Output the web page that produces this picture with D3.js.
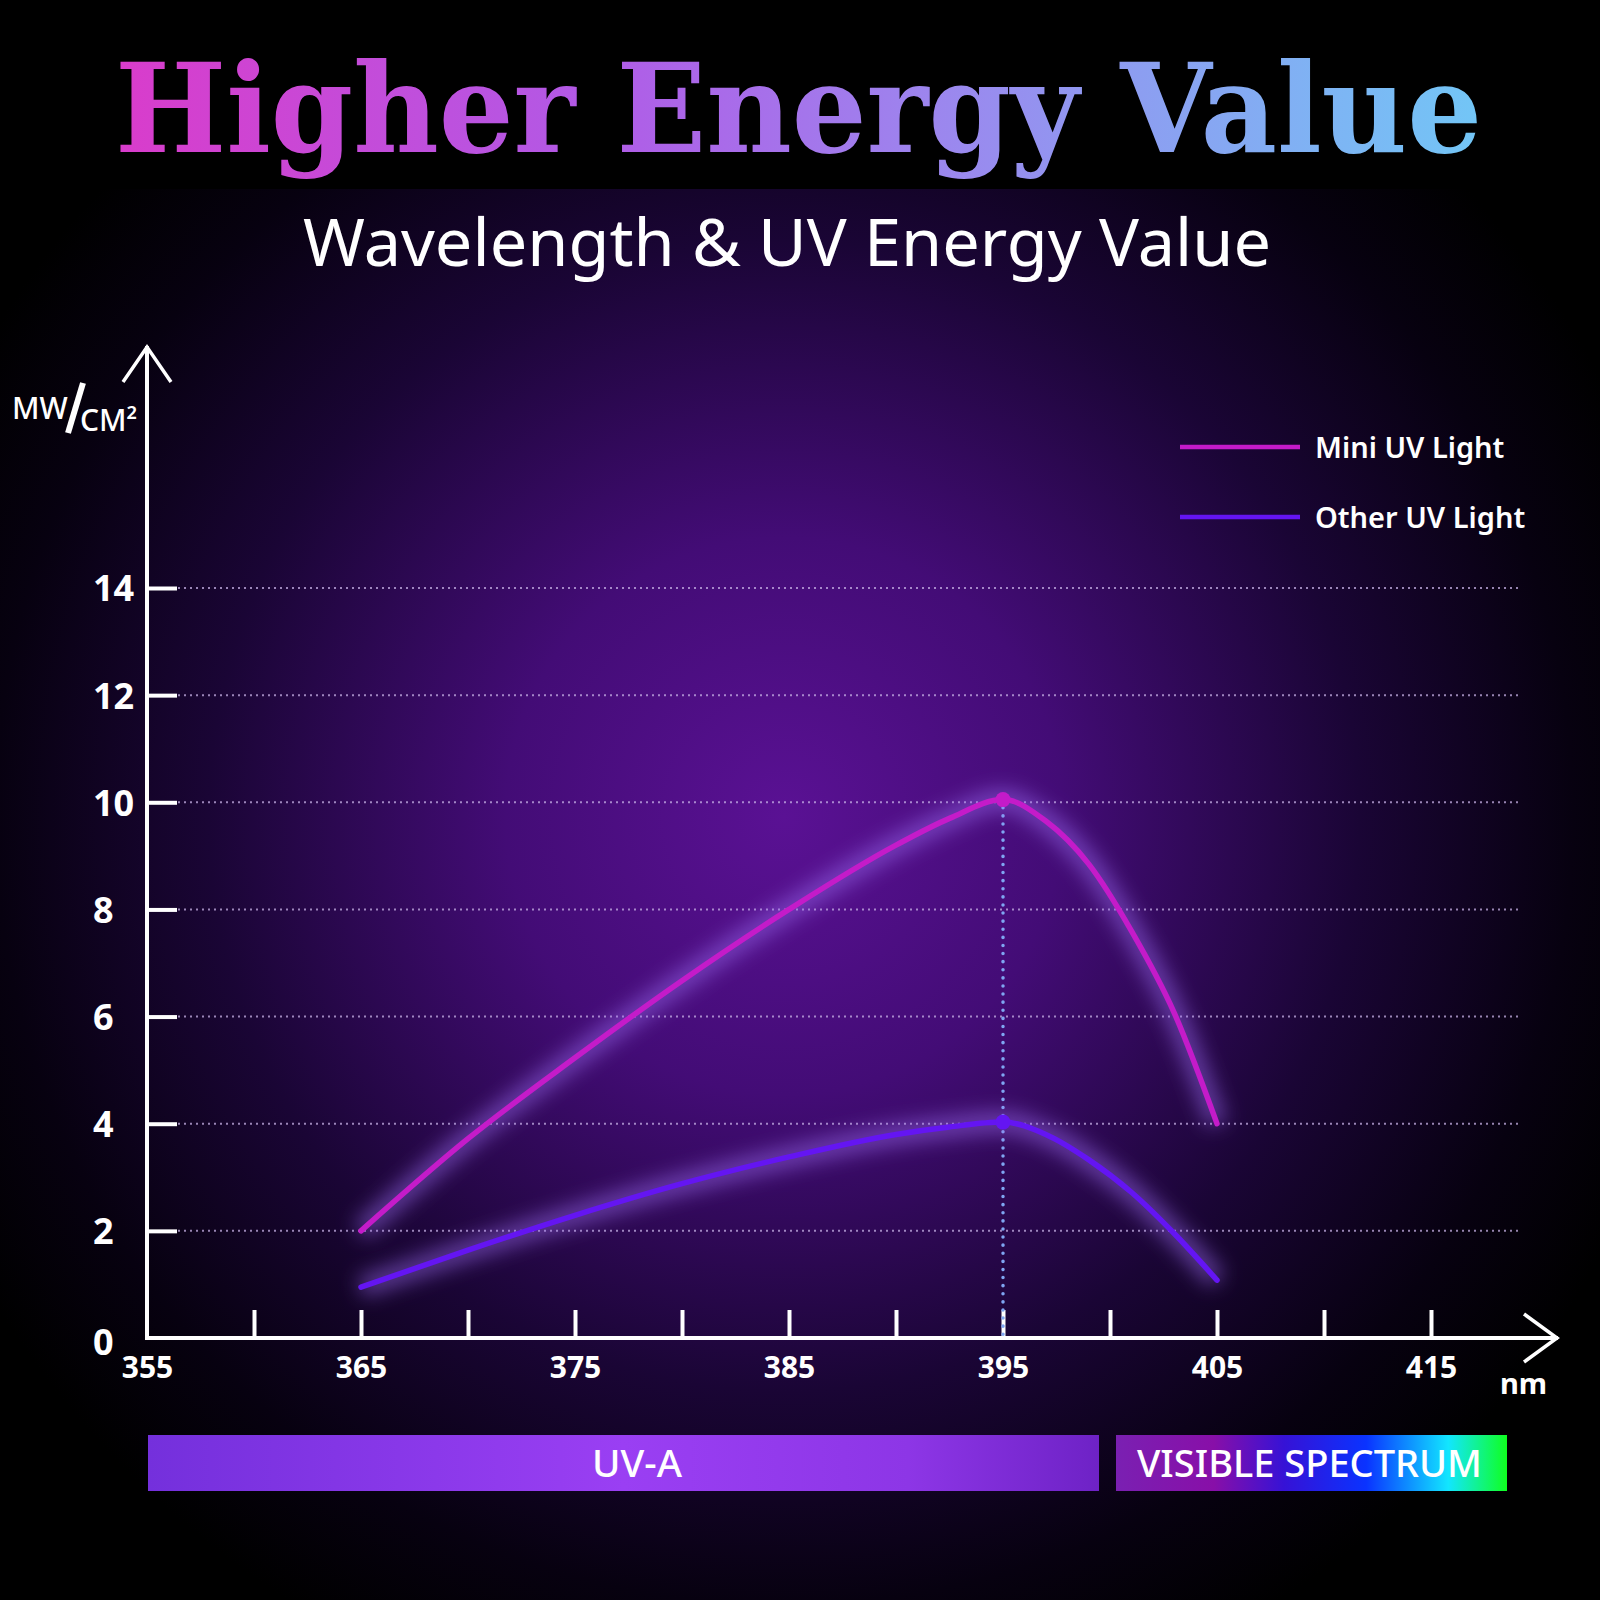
<!DOCTYPE html>
<html>
<head>
<meta charset="utf-8" />
<title>Wavelength & UV Energy Value</title>
<script src="https://cdn.jsdelivr.net/npm/d3@7"></script>
<style>
html, body {
	margin: 0;
	padding: 0;
	background: #000;
}
svg { display: block; }
text { font-family: "Noto Sans", "Open Sans", sans-serif; fill: #fff; }
</style>
</head>
<body>
<div id="chart"></div>
<script>

// values (nm -> mW/cm2)
var wavelengths = [365, 370, 375, 380, 385, 390, 392.5, 395, 397, 399, 401, 403, 405];
var miniUV  = [2.0, 3.72, 5.23, 6.67, 8.0, 9.2, 9.7, 10.05, 9.65, 8.85, 7.6, 6.07, 4.0];
var otherUV = [0.95, 1.64, 2.29, 2.88, 3.38, 3.8, 3.94, 4.03, 3.8, 3.33, 2.72, 1.95, 1.08];

var peakNm = 395;
var yTicks = [0, 2, 4, 6, 8, 10, 12, 14];
var xTicks = [355, 360, 365, 370, 375, 380, 385, 390, 395, 400, 405, 410, 415];
var seriesNames = ["Mini UV Light", "Other UV Light"];
var seriesColors = ["#c41bc9", "#6415f2"];
var bands = ["UV-A", "VISIBLE SPECTRUM"];

var W = 1600, H = 1600;

var svg = d3.select("#chart").append("svg")
	.attr("width", W)
	.attr("height", H);

var defs = svg.append("defs");

// background glow
var bg = defs.append("radialGradient").attr("id", "bg")
	.attr("cx", "49%").attr("cy", "51%").attr("r", "58%");
[["0", "#5a1194"], ["0.3", "#430c76"], ["0.62", "#1a0535"], ["0.85", "#070110"], ["1", "#000"]]
	.forEach(function (s) { bg.append("stop").attr("offset", s[0]).attr("stop-color", s[1]); });

var titleGrad = defs.append("linearGradient").attr("id", "titleGrad")
	.attr("gradientUnits", "userSpaceOnUse")
	.attr("x1", 115).attr("x2", 1482).attr("y1", 0).attr("y2", 0);
[["0", "#d93ccb"], ["0.35", "#b15ae6"], ["0.6", "#9c86ee"], ["1", "#72c6f6"]]
	.forEach(function (s) { titleGrad.append("stop").attr("offset", s[0]).attr("stop-color", s[1]); });

var uvaGrad = defs.append("linearGradient").attr("id", "uvaGrad");
[["0", "#7430dc"], ["0.5", "#9a3ff3"], ["0.8", "#8d36e6"], ["1", "#6e22c6"]]
	.forEach(function (s) { uvaGrad.append("stop").attr("offset", s[0]).attr("stop-color", s[1]); });

var visGrad = defs.append("linearGradient").attr("id", "visGrad");
[["0", "#7a20b2"], ["0.25", "#880fa8"], ["0.43", "#3612d6"], ["0.64", "#0a33ff"], ["0.85", "#12e6ff"], ["1", "#10ff20"]]
	.forEach(function (s) { visGrad.append("stop").attr("offset", s[0]).attr("stop-color", s[1]); });

var blur = defs.append("filter").attr("id", "blur")
	.attr("x", "-30%").attr("y", "-30%").attr("width", "160%").attr("height", "160%");
blur.append("feGaussianBlur").attr("stdDeviation", 10);

svg.append("rect").attr("width", W).attr("height", H).attr("fill", "url(#bg)");
svg.append("rect").attr("width", W).attr("height", 189).attr("fill", "#000");

// titles
svg.append("text")
	.attr("x", 115).attr("y", 152)
	.attr("textLength", 1367).attr("lengthAdjust", "spacingAndGlyphs")
	.style("font-family", "'DejaVu Serif', serif")
	.style("font-weight", "bold")
	.style("font-size", "124px")
	.style("fill", "url(#titleGrad)")
	.text("Higher Energy Value");

svg.append("text")
	.attr("x", 303).attr("y", 266)
	.attr("textLength", 968).attr("lengthAdjust", "spacingAndGlyphs")
	.style("font-size", "66px")
	.text("Wavelength & UV Energy Value");

// scales
var x = d3.scaleLinear().domain([355, 415]).range([147, 1431]);
var y = d3.scaleLinear().domain([0, 14]).range([1338, 588]);

// grid
svg.append("g").selectAll("line")
	.data(yTicks.filter(function (d) { return d > 0; }))
	.enter().append("line")
	.attr("x1", 178).attr("x2", 1522)
	.attr("y1", function (d) { return y(d); })
	.attr("y2", function (d) { return y(d); })
	.attr("stroke", "#c7b2e6")
	.attr("stroke-opacity", 0.75)
	.attr("stroke-width", 2)
	.attr("stroke-dasharray", "2,4");

// y axis
var yAxis = svg.append("g")
	.attr("transform", "translate(147,0)")
	.call(d3.axisLeft(y).tickValues(yTicks).tickSize(-30).tickPadding(0).tickFormat(d3.format("d")));
yAxis.select(".domain").remove();
yAxis.selectAll(".tick line").attr("stroke", "#fff").attr("stroke-width", 4)
	.filter(function (d) { return d === 0; }).remove();
yAxis.selectAll(".tick text")
	.attr("x", -54).attr("dy", "0.36em")
	.attr("text-anchor", "start")
	.style("font-size", "36px").style("font-weight", "bold").style("fill", "#fff")
	.attr("font-family", null);
yAxis.selectAll(".tick").filter(function (d) { return d === 0; }).select("text").attr("dy", "0.45em");

// x axis
var xAxis = svg.append("g")
	.attr("transform", "translate(0,1338)")
	.call(d3.axisBottom(x).tickValues(xTicks).tickSize(-28).tickPadding(0)
		.tickFormat(function (d) { return (d - 355) % 10 === 0 ? d : ""; }));
xAxis.select(".domain").remove();
xAxis.selectAll(".tick line").attr("stroke", "#fff").attr("stroke-width", 4)
	.filter(function (d) { return d === 355; }).remove();
xAxis.selectAll(".tick text")
	.attr("y", 40).attr("dy", null)
	.style("font-size", "30px").style("font-weight", "bold").style("fill", "#fff")
	.attr("font-family", null);

svg.append("text").attr("x", 1500).attr("y", 1394)
	.style("font-size", "29px").style("font-weight", "bold").text("nm");

// axis lines with open arrows
var axisPath = d3.path();
axisPath.moveTo(147, 346); axisPath.lineTo(147, 1338); axisPath.lineTo(1558, 1338);
svg.append("path").attr("d", axisPath.toString())
	.attr("fill", "none").attr("stroke", "#fff").attr("stroke-width", 4);
svg.append("path").attr("d", "M123,382L147,347L171,382")
	.attr("fill", "none").attr("stroke", "#fff").attr("stroke-width", 3.5);
svg.append("path").attr("d", "M1524,1314L1557,1338L1524,1362")
	.attr("fill", "none").attr("stroke", "#fff").attr("stroke-width", 3.5);

// unit label, slash drawn as a stroke
var unit = svg.append("g").style("font-weight", 500);
unit.append("text").attr("x", 12).attr("y", 419).style("font-size", "30px").text("MW");
unit.append("path").attr("d", "M83,383L68,433")
	.attr("stroke", "#fff").attr("stroke-width", 6);
unit.append("text").attr("x", 80).attr("y", 431).style("font-size", "30px").text("CM²");

// peak marker line
svg.append("line")
	.attr("x1", x(peakNm)).attr("x2", x(peakNm))
	.attr("y1", y(10.05)).attr("y2", 1338)
	.attr("stroke", "#7fa6f2").attr("stroke-width", 3.5)
	.attr("stroke-linecap", "round").attr("stroke-dasharray", "0.1,8");

// curves
var line = d3.line()
	.x(function (d) { return x(d[0]); })
	.y(function (d) { return y(d[1]); })
	.curve(d3.curveMonotoneX);

var series = [miniUV, otherUV].map(function (vals) {
	return wavelengths.map(function (w, i) { return [w, vals[i]]; });
});

var curves = svg.append("g");
series.forEach(function (pts, i) {
	curves.append("path").attr("d", line(pts))
		.attr("fill", "none").attr("stroke", "#9c6cf2").attr("stroke-opacity", 0.55)
		.attr("stroke-width", 20).attr("filter", "url(#blur)");
	curves.append("path").attr("d", line(pts))
		.attr("fill", "none").attr("stroke", seriesColors[i])
		.attr("stroke-width", 5.5).attr("stroke-linecap", "round");
	var peak = pts[wavelengths.indexOf(peakNm)];
	curves.append("circle")
		.attr("cx", x(peak[0])).attr("cy", y(peak[1])).attr("r", 7.5)
		.attr("fill", seriesColors[i]);
});

// legend
var legend = svg.append("g");
seriesNames.forEach(function (name, i) {
	var ly = 447 + i * 70;
	legend.append("line").attr("x1", 1180).attr("x2", 1300).attr("y1", ly).attr("y2", ly)
		.attr("stroke", "#8f5fe8").attr("stroke-opacity", 0.5).attr("stroke-width", 16)
		.attr("filter", "url(#blur)");
	legend.append("line").attr("x1", 1180).attr("x2", 1300).attr("y1", ly).attr("y2", ly)
		.attr("stroke", seriesColors[i]).attr("stroke-width", 4.5);
	legend.append("text").attr("x", 1315).attr("y", ly + 11)
		.style("font-size", "29px").style("font-weight", 600).text(name);
});

// spectrum bands
var bandBox = [[148, 1099], [1116, 1507]];
var bandFill = ["url(#uvaGrad)", "url(#visGrad)"];
var bandText = [[592, 90], [1137, 345]];
bands.forEach(function (b, i) {
	svg.append("rect")
		.attr("x", bandBox[i][0]).attr("y", 1435)
		.attr("width", bandBox[i][1] - bandBox[i][0]).attr("height", 56)
		.attr("fill", bandFill[i]);
	svg.append("text")
		.attr("x", bandText[i][0]).attr("y", 1477)
		.attr("textLength", bandText[i][1]).attr("lengthAdjust", "spacingAndGlyphs")
		.style("font-size", "38px").style("font-weight", 500)
		.text(b);
});

</script>
</body>
</html>
